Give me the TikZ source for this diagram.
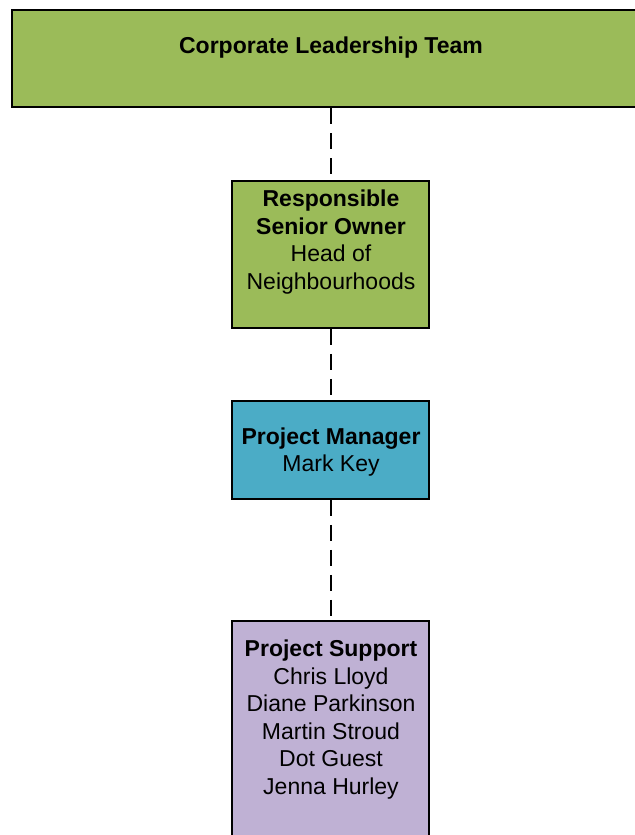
\documentclass[tikz,border=0pt]{standalone}
\usepackage{fontspec}
\setmainfont{Liberation Sans}
\definecolor{leafgreen}{HTML}{9BBB59}
\definecolor{tealblue}{HTML}{4BACC6}
\definecolor{lavender}{HTML}{BFB1D4}
\begin{document}
\begin{tikzpicture}[x=0.75pt,y=-0.75pt,
  rolebox/.style={draw=black, line width=1.4pt, rectangle, inner sep=0pt},
  roletext/.style={align=center, inner sep=0pt,
    font=\fontsize{17.25pt}{20.65pt}\selectfont},
  link/.style={draw=black, line width=1.5pt, dash pattern=on 12pt off 6.75pt}]
  \useasboundingbox (0,0) rectangle (635,835);
  \clip (0,0) rectangle (635,835);

  % boxes (corners in pixel units, y grows downwards)
  \node[rolebox, fill=leafgreen, line width=1.7pt, minimum width=640*0.75pt, minimum height=97*0.75pt]
    (clt) at (332,58.5) {};
  \node[rolebox, fill=leafgreen, minimum width=197*0.75pt, minimum height=147*0.75pt]
    (rso) at (330.5,254.5) {};
  \node[rolebox, fill=tealblue, minimum width=197*0.75pt, minimum height=98*0.75pt]
    (pm) at (330.5,450) {};
  \node[rolebox, fill=lavender, minimum width=197*0.75pt, minimum height=240*0.75pt]
    (ps) at (330.5,741) {};

  % texts
  \node[roletext] (cltt) at (331,47.5) {\bfseries Corporate Leadership Team};
  \node[roletext] (rsot) at (331,242) {\bfseries Responsible\\\bfseries Senior Owner\\Head of\\Neighbourhoods};
  \node[roletext] (pmt) at (331,452) {\bfseries Project Manager\\Mark Key};
  \node[roletext] (pst) at (331,719.5) {\bfseries Project Support\\Chris Lloyd\\Diane Parkinson\\Martin Stroud\\Dot Guest\\Jenna Hurley};

  % connectors
  \draw[link] (clt.south -| rso.north) -- (rso.north);
  \draw[link] (rso.south) -- (pm.north);
  \draw[link] (pm.south) -- (ps.north);
\end{tikzpicture}
\end{document}
